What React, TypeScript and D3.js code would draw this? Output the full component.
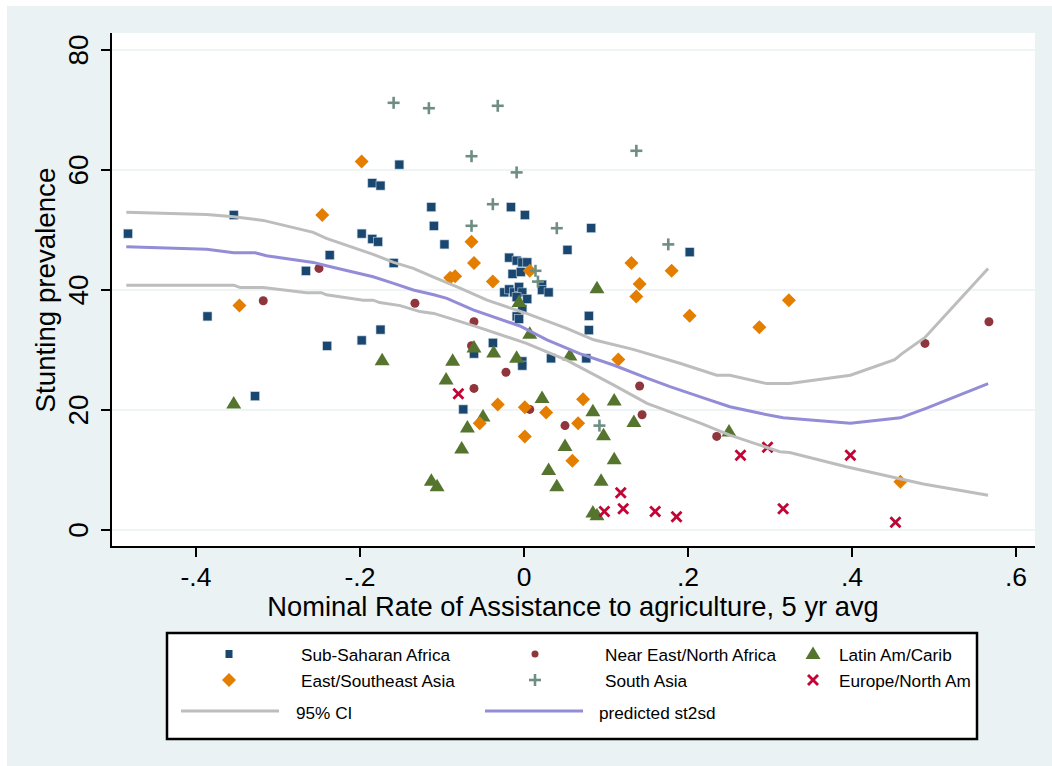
import React from 'react'
import * as d3 from 'd3'

// region scatter points [NRA, stunting]
const ssa = [
  [-0.483, 49.4], [-0.354, 52.5], [-0.152, 60.9], [-0.185, 57.8], [-0.175, 57.4], [-0.198, 49.4],
  [-0.185, 48.5], [-0.178, 48.05], [-0.237, 45.8], [-0.266, 43.2], [-0.159, 44.5], [-0.386, 35.6],
  [-0.24, 30.7], [-0.198, 31.6], [-0.175, 33.4], [-0.328, 22.3], [-0.113, 53.8], [-0.11, 50.7],
  [-0.097, 47.6], [-0.016, 53.8], [0.001, 52.5], [0.082, 50.3], [0.053, 46.7], [0.202, 46.3],
  [-0.018, 45.4], [-0.009, 44.9], [-0.002, 44.6], [0.004, 44.6], [-0.014, 42.7], [-0.004, 43.0],
  [0.022, 40.9], [0.022, 40.0], [0.03, 39.6], [-0.024, 39.6], [-0.018, 40.1], [-0.012, 39.6],
  [-0.006, 40.5], [-0.002, 39.6], [0.004, 38.5], [-0.009, 38.8], [-0.002, 36.8], [-0.009, 35.6],
  [-0.006, 35.2], [0.079, 35.7], [0.079, 33.3], [-0.038, 31.2], [-0.061, 29.4], [-0.002, 28.1],
  [-0.002, 27.4], [0.033, 28.6], [0.076, 28.6], [-0.074, 20.1]
]
const nena = [
  [-0.25, 43.6], [-0.318, 38.2], [-0.133, 37.8], [-0.061, 34.7], [-0.064, 30.7], [-0.022, 26.3],
  [-0.061, 23.6], [0.007, 20.1], [0.05, 17.4], [0.141, 24.0], [0.144, 19.2], [0.235, 15.6],
  [0.489, 31.1], [0.567, 34.7]
]
const lac = [
  [-0.354, 21.1], [-0.173, 28.3], [0.089, 40.3], [-0.006, 38.0], [0.007, 32.7], [-0.061, 30.4],
  [-0.037, 29.6], [-0.009, 28.7], [0.056, 29.1], [-0.087, 28.2], [-0.095, 25.1], [0.022, 22.0],
  [0.11, 21.6], [0.084, 19.8], [0.134, 18.0], [-0.05, 18.9], [-0.069, 17.1], [0.097, 15.8],
  [-0.076, 13.6], [0.05, 14.0], [0.11, 11.8], [0.03, 10.0], [0.04, 7.3], [0.094, 8.2],
  [-0.113, 8.2], [-0.106, 7.3], [0.084, 2.9], [0.089, 2.45], [0.25, 16.4]
]
const esa = [
  [-0.198, 61.4], [-0.246, 52.5], [-0.347, 37.4], [-0.064, 48.05], [-0.061, 44.5], [-0.09, 42.05],
  [-0.084, 42.3], [-0.038, 41.4], [0.007, 43.2], [0.131, 44.5], [0.18, 43.2], [0.141, 41.0],
  [0.137, 38.9], [0.202, 35.7], [0.115, 28.4], [-0.032, 20.9], [0.001, 20.45], [0.027, 19.6],
  [0.072, 21.8], [-0.054, 17.8], [0.066, 17.8], [0.001, 15.6], [0.059, 11.55], [0.323, 38.3],
  [0.287, 33.8], [0.459, 8.05]
]
const sa = [
  [-0.159, 71.2], [-0.116, 70.3], [-0.032, 70.7], [-0.064, 62.3], [-0.009, 59.6], [0.137, 63.2],
  [-0.038, 54.3], [-0.064, 50.7], [0.04, 50.3], [0.176, 47.6], [0.014, 43.2], [0.017, 41.4],
  [0.092, 17.4]
]
const ena = [
  [-0.08, 22.7], [0.118, 6.2], [0.098, 3.1], [0.121, 3.55], [0.16, 3.1], [0.186, 2.2],
  [0.264, 12.45], [0.297, 13.8], [0.398, 12.45], [0.316, 3.55], [0.453, 1.3]
]

// fitted line and 95% band
const ciUpper = [
  [-0.485, 52.95], [-0.387, 52.6], [-0.354, 52.2], [-0.318, 51.6], [-0.257, 49.6], [-0.241, 48.6],
  [-0.184, 45.95], [-0.159, 44.6], [-0.135, 43.6], [-0.111, 42.2], [-0.078, 40.3], [-0.045, 38.3],
  [0.003, 36.1], [0.052, 33.6], [0.085, 31.7], [0.133, 30.1], [0.19, 27.8], [0.235, 25.8],
  [0.251, 25.8], [0.296, 24.4], [0.324, 24.4], [0.398, 25.8], [0.452, 28.4], [0.461, 29.4],
  [0.489, 32.1], [0.566, 43.6]
]
const predicted = [
  [-0.485, 47.2], [-0.387, 46.8], [-0.354, 46.2], [-0.328, 46.2], [-0.314, 45.7], [-0.257, 44.6],
  [-0.241, 44.05], [-0.184, 42.2], [-0.159, 41.1], [-0.135, 40.0], [-0.11, 39.2], [-0.094, 38.6],
  [-0.062, 36.7], [-0.005, 34.0], [0.028, 31.7], [0.068, 29.4], [0.109, 27.5], [0.15, 25.3],
  [0.178, 23.9], [0.215, 22.2], [0.251, 20.55], [0.288, 19.45], [0.316, 18.7], [0.398, 17.8],
  [0.459, 18.7], [0.491, 20.3], [0.566, 24.4]
]
const ciLower = [
  [-0.485, 40.8], [-0.354, 40.8], [-0.346, 40.4], [-0.318, 40.4], [-0.265, 39.55], [-0.247, 39.55],
  [-0.241, 39.2], [-0.196, 38.3], [-0.184, 38.3], [-0.176, 37.9], [-0.151, 37.4], [-0.127, 36.4],
  [-0.11, 36.1], [-0.058, 33.9], [0.003, 31.1], [0.052, 28.3], [0.109, 24.2], [0.15, 21.1],
  [0.215, 17.8], [0.251, 15.8], [0.312, 13.05], [0.324, 12.9], [0.393, 10.55], [0.487, 7.67],
  [0.566, 5.8]
]

const xTicks = [-0.4, -0.2, 0, 0.2, 0.4, 0.6]
const xTickLabels = ['-.4', '-.2', '0', '.2', '.4', '.6']
const yTicks = [0, 20, 40, 60, 80]

const navy = '#1a476f'
const maroon = '#90353b'
const green = '#55752f'
const orange = '#e37e00'
const teal = '#6e8e84'
const cranberry = '#c10534'
const ciColor = '#bdbdbd'
const predColor = '#938cd6'
const bg = '#eaf2f3'
const font = '"Liberation Sans", Arial, sans-serif'

const Marker = ({ type, x, y, color }) => {
  if (type === 'square')
    return <rect x={x - 4.5} y={y - 4.5} width={9} height={9} fill={color} stroke="#c8d4e0" strokeWidth={0.6} />
  if (type === 'circle') return <circle cx={x} cy={y} r={4.5} fill={color} />
  if (type === 'diamond')
    return <path d={`M${x},${y - 7}L${x + 7},${y}L${x},${y + 7}L${x - 7},${y}Z`} fill={color} />
  if (type === 'triangle')
    return <path d={`M${x},${y - 7.5}L${x + 7.5},${y + 5}L${x - 7.5},${y + 5}Z`} fill={color} />
  if (type === 'plus')
    return (
      <g stroke={color} strokeWidth={2.6}>
        <line x1={x - 6} x2={x + 6} y1={y} y2={y} />
        <line x1={x} x2={x} y1={y - 6} y2={y + 6} />
      </g>
    )
  return (
    <g stroke={color} strokeWidth={2.8}>
      <line x1={x - 5} x2={x + 5} y1={y - 5} y2={y + 5} />
      <line x1={x - 5} x2={x + 5} y1={y + 5} y2={y - 5} />
    </g>
  )
}

const series = [
  { name: 'Sub-Saharan Africa', data: ssa, type: 'square', color: navy },
  { name: 'Near East/North Africa', data: nena, type: 'circle', color: maroon },
  { name: 'Latin Am/Carib', data: lac, type: 'triangle', color: green },
  { name: 'East/Southeast Asia', data: esa, type: 'diamond', color: orange },
  { name: 'South Asia', data: sa, type: 'plus', color: teal },
  { name: 'Europe/North Am', data: ena, type: 'x', color: cranberry }
]

export default function App() {
  const W = 1052
  const H = 766
  const plot = { left: 111, right: 1035, top: 33, bottom: 547 }

  const x = d3.scaleLinear().domain([-0.4, 0.6]).range([196, 1016])
  const y = d3.scaleLinear().domain([0, 80]).range([530, 50])
  const line = d3.line().x(d => x(d[0])).y(d => y(d[1]))

  // legend layout
  const legend = { x: 167, y: 633, w: 810, h: 106 }
  const colMarker = [229, 535, 813]
  const colText = [301, 605, 839]
  const rowMid = [654, 680]
  const rowBase = [661, 687]

  return (
    <svg width={W} height={H} style={{ position: 'absolute', left: 0, top: 0 }} fontFamily={font}>
      <rect x={0} y={0} width={W} height={H} fill="#fff" />
      <rect x={7} y={6} width={W - 7} height={H - 6} fill={bg} />
      <rect x={plot.left} y={plot.top} width={plot.right - plot.left} height={plot.bottom - plot.top} fill="#fff" />

      {yTicks.map(t => (
        <line key={t} x1={plot.left} x2={plot.right} y1={y(t)} y2={y(t)} stroke={bg} strokeWidth={1.5} />
      ))}

      {series.map(s => (
        <g key={s.name}>
          {s.data.map((d, i) => (
            <Marker key={i} type={s.type} x={x(d[0])} y={y(d[1])} color={s.color} />
          ))}
        </g>
      ))}

      <path d={line(ciUpper)} fill="none" stroke={ciColor} strokeWidth={3} />
      <path d={line(ciLower)} fill="none" stroke={ciColor} strokeWidth={3} />
      <path d={line(predicted)} fill="none" stroke={predColor} strokeWidth={3} />

      {/* axes */}
      <line x1={plot.left} x2={plot.left} y1={plot.top} y2={plot.bottom + 1} stroke="#000" strokeWidth={2} />
      <line x1={plot.left - 1} x2={plot.right} y1={plot.bottom} y2={plot.bottom} stroke="#000" strokeWidth={2} />
      {yTicks.map(t => (
        <g key={t}>
          <line x1={plot.left - 10} x2={plot.left} y1={y(t)} y2={y(t)} stroke="#000" strokeWidth={2} />
          <text transform={`translate(88,${y(t)}) rotate(-90)`} textAnchor="middle" fontSize={28}>
            {t}
          </text>
        </g>
      ))}
      {xTicks.map((t, i) => (
        <g key={t}>
          <line x1={x(t)} x2={x(t)} y1={plot.bottom} y2={plot.bottom + 10} stroke="#000" strokeWidth={2} />
          <text x={x(t)} y={586} textAnchor="middle" fontSize={26.5}>
            {xTickLabels[i]}
          </text>
        </g>
      ))}
      <text x={573} y={616} textAnchor="middle" fontSize={27.3}>
        Nominal Rate of Assistance to agriculture, 5 yr avg
      </text>
      <text transform={`translate(55,${(plot.top + plot.bottom) / 2}) rotate(-90)`} textAnchor="middle" fontSize={27.7}>
        Stunting prevalence
      </text>

      {/* legend */}
      <rect x={legend.x} y={legend.y} width={legend.w} height={legend.h} fill="#fff" stroke="#000" strokeWidth={2.5} />
      {series.map((s, i) => {
        const col = i < 3 ? i : i - 3
        const row = i < 3 ? 0 : 1
        return (
          <g key={s.name}>
            {s.type === 'square' ? (
              <rect x={colMarker[col] - 3.5} y={rowMid[row] - 4} width={7} height={8} fill={s.color} />
            ) : s.type === 'circle' ? (
              <circle cx={colMarker[col]} cy={rowMid[row]} r={3.5} fill={s.color} />
            ) : (
              <Marker type={s.type} x={colMarker[col]} y={rowMid[row]} color={s.color} />
            )}
            <text x={colText[col]} y={rowBase[row]} fontSize={17.2}>
              {s.name}
            </text>
          </g>
        )
      })}
      <line x1={181} x2={279} y1={711} y2={711} stroke={ciColor} strokeWidth={3} />
      <text x={296} y={719} fontSize={17.2}>95% CI</text>
      <line x1={485} x2={583} y1={711} y2={711} stroke={predColor} strokeWidth={3} />
      <text x={599} y={719} fontSize={17.2}>predicted st2sd</text>
    </svg>
  )
}
